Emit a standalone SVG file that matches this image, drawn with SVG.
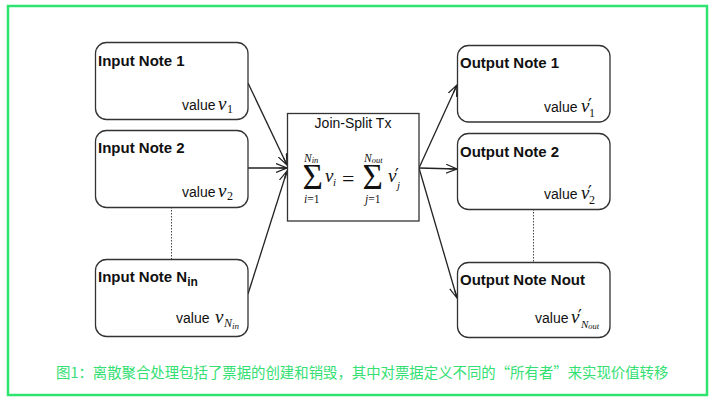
<svg xmlns="http://www.w3.org/2000/svg" width="714" height="404" viewBox="0 0 714 404">
<defs>
<style>
.node{fill:#fff;stroke:#333;stroke-width:1.3}
.title{font-family:"Liberation Sans",Arial,sans-serif;font-weight:bold;font-size:15px;fill:#111}
.lbl{font-family:"Liberation Sans",Arial,sans-serif;font-size:14px;fill:#111}
.m{font-family:"Liberation Serif","Times New Roman",serif;font-style:italic}
.mr{font-family:"Liberation Serif","Times New Roman",serif;font-style:normal}
.pr{font-family:"DejaVu Sans",sans-serif;font-style:normal;font-size:17px}
.conn{stroke:#222;stroke-width:1.3;fill:none}
.dot{stroke:#444;stroke-width:1;stroke-dasharray:1.5 1.5;fill:none}
</style>
<marker id="arr" viewBox="0 0 12 10" refX="11" refY="5" markerWidth="12" markerHeight="10" markerUnits="userSpaceOnUse" orient="auto">
<path d="M0,0.5 L11,5 L0,9.5 M3,5 L11,5" fill="none" stroke="#222" stroke-width="1.2"/>
</marker>
</defs>
<rect x="0" y="0" width="714" height="404" fill="#fff"/>
<rect x="8" y="6" width="699" height="389" fill="none" stroke="#2fe46e" stroke-width="2.5"/>

<g id="connectors">
<line class="conn" x1="248" y1="83" x2="287" y2="165" marker-end="url(#arr)"/>
<line class="conn" x1="248" y1="168" x2="287" y2="168" marker-end="url(#arr)"/>
<line class="conn" x1="248" y1="294" x2="287" y2="171" marker-end="url(#arr)"/>
<line class="conn" x1="419" y1="168" x2="457" y2="85" marker-end="url(#arr)"/>
<line class="conn" x1="419" y1="168" x2="457" y2="169" marker-end="url(#arr)"/>
<line class="conn" x1="419" y1="168" x2="457" y2="298" marker-end="url(#arr)"/>
<line class="dot" x1="171.5" y1="207" x2="171.5" y2="259"/>
<line class="dot" x1="533.5" y1="209" x2="533.5" y2="262"/>
</g>

<g id="input1">
<rect class="node" x="95.5" y="42.5" width="152.5" height="77" rx="11"/>
<text class="title" x="98" y="66">Input Note 1</text>
<text class="lbl" x="182" y="110">value<tspan class="m" x="218" font-size="19">v</tspan><tspan class="mr" x="227" y="113" font-size="12">1</tspan></text>
</g>

<g id="input2">
<rect class="node" x="95.5" y="130.5" width="152.5" height="77" rx="11"/>
<text class="title" x="98" y="153">Input Note 2</text>
<text class="lbl" x="182" y="197">value<tspan class="m" x="218" font-size="19">v</tspan><tspan class="mr" x="227" y="200" font-size="12">2</tspan></text>
</g>

<g id="inputN">
<rect class="node" x="95.5" y="259.5" width="152.5" height="77" rx="11"/>
<text class="title" x="98" y="282">Input Note N<tspan font-size="12" dy="4">in</tspan></text>
<text class="lbl" x="176" y="323">value<tspan class="m" x="215" font-size="19">v</tspan><tspan class="m" x="224" y="327" font-size="12">N</tspan><tspan class="m" y="329" font-size="9">in</tspan></text>
</g>

<g id="joinsplit">
<rect class="node" x="287.5" y="113.5" width="131.5" height="107.5"/>
<text class="lbl" x="353" y="128" font-size="15" text-anchor="middle">Join-Split Tx</text>
<text class="mr" fill="#111"><tspan x="302.5" y="189" font-size="35">Σ</tspan><tspan class="m" x="304" y="162" font-size="11.5">N</tspan><tspan class="m" y="163" font-size="8.5">in</tspan><tspan class="m" x="304" y="203" font-size="11.5">i</tspan><tspan font-size="11.5">=1</tspan><tspan class="m" x="325" y="182" font-size="19">v</tspan><tspan class="m" x="333" y="186" font-size="11">i</tspan><tspan x="342" y="186" font-size="22">=</tspan><tspan x="362.5" y="189" font-size="35">Σ</tspan><tspan class="m" x="364" y="162" font-size="11.5">N</tspan><tspan class="m" y="163" font-size="8.5">out</tspan><tspan class="m" x="365" y="203" font-size="11.5">j</tspan><tspan font-size="11.5">=1</tspan><tspan class="m" x="388" y="182" font-size="19">v</tspan><tspan class="pr" x="395" y="181">′</tspan><tspan class="m" x="397" y="189" font-size="11">j</tspan></text>
</g>

<g id="output1">
<rect class="node" x="457.5" y="45.5" width="152.5" height="76.5" rx="11"/>
<text class="title" x="460" y="68">Output Note 1</text>
<text class="lbl" x="544" y="112">value<tspan class="m" x="581" font-size="19">v</tspan><tspan class="pr" x="588" y="111">′</tspan><tspan class="mr" x="589" y="117" font-size="12">1</tspan></text>
</g>

<g id="output2">
<rect class="node" x="457.5" y="133.5" width="152.5" height="76" rx="11"/>
<text class="title" x="460" y="157">Output Note 2</text>
<text class="lbl" x="544" y="199">value<tspan class="m" x="581" font-size="19">v</tspan><tspan class="pr" x="588" y="198">′</tspan><tspan class="mr" x="589" y="204" font-size="12">2</tspan></text>
</g>

<g id="outputN">
<rect class="node" x="457.5" y="262.5" width="152.5" height="75" rx="11"/>
<text class="title" x="460" y="285">Output Note Nout</text>
<text class="lbl" x="535" y="323">value<tspan class="m" x="571" font-size="19">v</tspan><tspan class="pr" x="578" y="322">′</tspan><tspan class="m" x="581" y="328" font-size="11">N</tspan><tspan class="m" y="329" font-size="8.5">out</tspan></text>
</g>

<text x="56" y="378" font-family="'Noto Sans CJK SC','Liberation Sans',sans-serif" font-size="14.4" fill="#33e072">图1：离散聚合处理包括了票据的创建和销毁，其中对票据定义不同的“所有者”来实现价值转移</text>
</svg>
